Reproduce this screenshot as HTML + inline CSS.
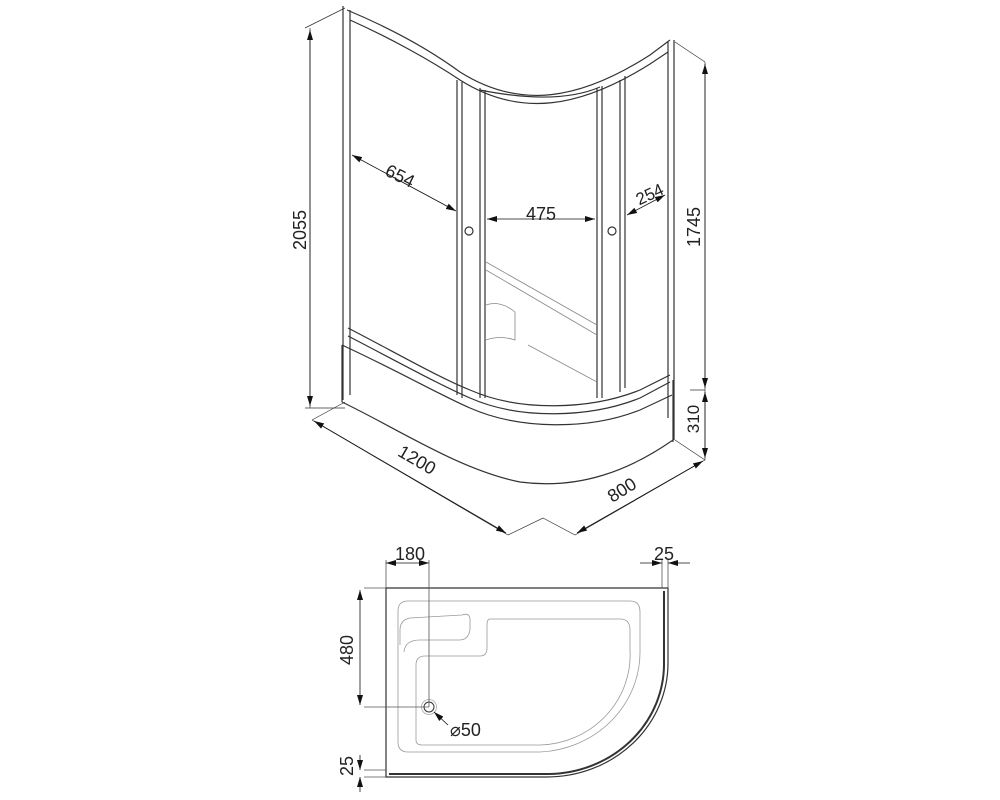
<!DOCTYPE html>
<html><head><style>
body{margin:0;background:#fff}
svg{display:block}
text{font-family:"Liberation Sans",Arial,sans-serif;fill:#222}
</style></head><body>
<svg width="1000" height="800" viewBox="0 0 1000 800" xmlns="http://www.w3.org/2000/svg">
<defs>
<marker id="a" viewBox="0 0 10 6" refX="10" refY="3" markerWidth="10" markerHeight="6" orient="auto-start-reverse" markerUnits="userSpaceOnUse"><path d="M0,0L10,3L0,6z" fill="#111"/></marker>
</defs>
<g fill="none" stroke="#333" stroke-width="1.2">
<path d="M343,6V400M350,10V395M668,42V418M674,40V440"/>
<path d="M347,10C390,28 430,50 460,72C520,110 580,100 650,55L670,40"/>
<path d="M350,20C390,38 430,60 460,80C520,118 580,108 650,64L668,52"/>
<path d="M480,90C530,100 570,100 600,87"/>
<path d="M457,80V395M462,82V398M480,88V398M485,90V398"/>
<path d="M597,88V398M602,86V398M620,80V392M625,76V388"/>
<circle cx="469" cy="231" r="4"/><circle cx="612" cy="231" r="4"/>
<path d="M486,262L597,325M486,270L597,335M486,305Q500,300 515,312V340Q500,335 486,340" stroke="#888" stroke-width="0.8"/>
<path d="M528,345L597,382" stroke="#888" stroke-width="0.8"/>
<path d="M348,328C400,355 440,378 470,390C520,412 590,410 640,390L670,375"/>
<path d="M348,336C400,363 440,385 470,398C520,420 590,418 640,398L670,382"/>
<path d="M342,345C400,372 440,395 470,408C520,430 590,430 640,410L672,395"/>
<path d="M342,345V402M673,380V442"/>
<path d="M342,402C400,430 460,470 520,482C580,490 630,470 673,440"/>
<path d="M310,28V408M305,408L345,408M305,28L345,8" stroke-width="0.7"/>
<path d="M705,62V460M690,390H705M675,440L705,460M675,42L705,62" stroke-width="0.7"/>
<path d="M312,420L508,535L543,518L575,535L705,460" stroke-width="0.7"/>
<path d="M345,402L312,420" stroke-width="0.7"/>
</g>
<g stroke="#111" stroke-width="0.8" fill="none">
<line x1="310" y1="30" x2="310" y2="406" marker-start="url(#a)" marker-end="url(#a)"/>
<line x1="705" y1="64" x2="705" y2="388" marker-start="url(#a)" marker-end="url(#a)"/>
<line x1="705" y1="392" x2="705" y2="458" marker-start="url(#a)" marker-end="url(#a)"/>
<line x1="352" y1="155" x2="456" y2="211" marker-start="url(#a)" marker-end="url(#a)"/>
<line x1="487" y1="219" x2="595" y2="219" marker-start="url(#a)" marker-end="url(#a)"/>
<line x1="627" y1="215" x2="665" y2="195" marker-start="url(#a)" marker-end="url(#a)"/>
<line x1="314" y1="421" x2="506" y2="533" marker-start="url(#a)" marker-end="url(#a)"/>
<line x1="577" y1="533" x2="703" y2="461" marker-start="url(#a)" marker-end="url(#a)"/>
</g>
<text x="400" y="182" font-size="18" text-anchor="middle" transform="rotate(26 400 176)">654</text>
<text x="541" y="220" font-size="18" text-anchor="middle">475</text>
<text x="650" y="200" font-size="17" text-anchor="middle" transform="rotate(-25 650 195)">254</text>
<text x="300" y="236" font-size="18" text-anchor="middle" transform="rotate(-90 300 230)">2055</text>
<text x="700" y="239" font-size="18" text-anchor="middle" transform="rotate(-90 694 233)">1745</text>
<text x="699" y="431" font-size="17" text-anchor="middle" transform="rotate(-90 693 425)">310</text>
<text x="417" y="466" font-size="18" text-anchor="middle" transform="rotate(30 417 460)">1200</text>
<text x="622" y="496" font-size="18" text-anchor="middle" transform="rotate(-32 622 490)">800</text>

<g fill="none" stroke="#333" stroke-width="1.2">
<path d="M386,588H668V663A121,114 0 0 1 547,777H386Z"/>
<path d="M389,774H548A117,110 0 0 0 664,663V591" stroke-width="2"/>
</g>
<g fill="none" stroke="#999" stroke-width="0.8">
<path d="M408,601H630Q640,601 640,612V650A105,100 0 0 1 540,752H408Q398,752 398,742V611Q398,601 408,601Z"/>
<path d="M400,645V630Q400,620 410,618L462,615Q470,612 470,620V630Q468,640 460,640H420Q405,640 404,652"/>
<path d="M490,619H620Q630,619 630,630V650A93,90 0 0 1 540,745H422Q416,745 416,740V665Q416,656 425,656H480Q487,656 487,648V625Q487,619 490,619"/>
</g>
<circle cx="429" cy="707" r="5" fill="none" stroke="#333"/>
<circle cx="429" cy="707" r="7.5" fill="none" stroke="#aaa" stroke-width="0.8"/>
<g stroke="#555" stroke-width="0.8" fill="none">
<path d="M386,588V560M429,707V560M662,588V560M668,588V560"/>
<path d="M364,588H386M364,707H429M364,770H386M364,777H386"/>
</g>
<g stroke="#111" stroke-width="0.8">
<line x1="386" y1="563" x2="429" y2="563" marker-start="url(#a)" marker-end="url(#a)"/>
<line x1="640" y1="563" x2="662" y2="563" marker-end="url(#a)"/>
<line x1="690" y1="563" x2="668" y2="563" marker-end="url(#a)"/>
<line x1="360" y1="590" x2="360" y2="705" marker-start="url(#a)" marker-end="url(#a)"/>
<line x1="360" y1="755" x2="360" y2="770" marker-end="url(#a)"/>
<line x1="360" y1="792" x2="360" y2="777" marker-end="url(#a)"/>
<line x1="448" y1="725" x2="434" y2="712" marker-end="url(#a)"/>
</g>
<text x="410" y="560" font-size="18" text-anchor="middle">180</text>
<text x="664" y="560" font-size="18" text-anchor="middle">25</text>
<text x="353" y="662" font-size="18" text-anchor="middle" transform="rotate(-90 347 656)">480</text>
<text x="353" y="778" font-size="18" text-anchor="middle" transform="rotate(-90 347 772)">25</text>
<text x="450" y="736" font-size="18">⌀50</text>
</svg>
</body></html>
